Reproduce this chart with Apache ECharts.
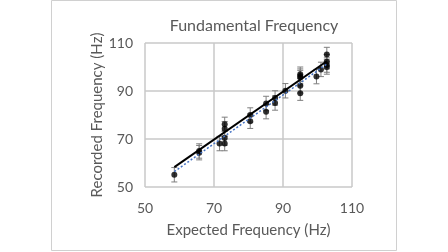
<!DOCTYPE html>
<html>
<head>
<meta charset="utf-8">
<script src="https://cdn.jsdelivr.net/npm/echarts@6/dist/echarts.min.js"></script>
<style>
  html, body { margin: 0; padding: 0; background: #fff; }
  #main { width: 448px; height: 252px; }
</style>
</head>
<body>
<div id="main"></div>
<script>
// measured points (expected Hz, recorded Hz) and error bar half-widths
var expected = [58.5, 65.7, 65.7, 71.6, 73.1, 73.1, 73.1, 73.1, 80.5, 80.5, 85.1, 85.1, 87.7, 87.7, 90.7, 95.0, 95.0, 95.0, 95.0, 95.0, 99.7, 101.0, 102.7, 102.7, 102.7, 102.7];
var recorded = [55.1, 65.0, 64.3, 68.1, 68.1, 70.4, 74.3, 76.1, 80.0, 77.4, 84.8, 81.4, 87.1, 85.0, 90.1, 97.0, 95.6, 96.2, 92.2, 89.1, 96.0, 99.0, 105.2, 102.2, 100.8, 100.0];
var errors = [3, 3, 3, 3, 3, 3, 3, 3, 3, 3, 3, 3, 3, 3, 3, 3, 3, 3, 3, 3, 3, 3, 3, 3, 3, 3];

// trend lines
var fitX = [58.5, 102.7];
var fitY = [58.3, 102.4];
var dotY = [56.4, 101.2];

var xTicks = [50, 70, 90, 110];
var yTicks = [50, 70, 90, 110];

var txt = '#595959';
var font = 'Lato';

var pts = expected.map(function (x, i) { return [x, recorded[i]]; });
var bars = expected.map(function (x, i) { return [x, recorded[i] - errors[i], recorded[i] + errors[i]]; });

var myChart = echarts.init(document.getElementById('main'));
var option = {
    backgroundColor: '#fff',
    animation: false,
    title: {
        text: 'Fundamental Frequency',
        left: 249,
        textAlign: 'center',
        top: 13,
        textStyle: { color: txt, fontFamily: font, fontSize: 16, fontWeight: 'normal' }
    },
    graphic: [{
        type: 'rect',
        shape: { x: 51.5, y: 0.5, width: 345, height: 250 },
        style: { fill: 'none', stroke: '#d0d0d0', lineWidth: 1 },
        silent: true
    }],
    grid: { left: 145, right: 96, top: 43, bottom: 65 },
    xAxis: {
        type: 'value',
        min: xTicks[0], max: xTicks[xTicks.length - 1], interval: 20,
        name: 'Expected Frequency (Hz)',
        nameLocation: 'middle',
        nameGap: 36,
        nameTextStyle: { color: txt, fontFamily: font, fontSize: 15 },
        axisLine: { show: false },
        axisTick: { show: false },
        axisLabel: { color: txt, fontFamily: font, fontSize: 14, margin: 14 },
        splitLine: { show: true, lineStyle: { color: '#c8c8c8', width: 1.5 } }
    },
    yAxis: {
        type: 'value',
        min: yTicks[0], max: yTicks[yTicks.length - 1], interval: 20,
        name: 'Recorded Frequency (Hz)',
        nameLocation: 'middle',
        nameGap: 40,
        nameTextStyle: { color: txt, fontFamily: font, fontSize: 15 },
        axisLine: { show: false },
        axisTick: { show: false },
        axisLabel: { color: txt, fontFamily: font, fontSize: 14, margin: 12 },
        splitLine: { show: true, lineStyle: { color: '#c8c8c8', width: 1.5 } }
    },
    series: [
        {
            type: 'custom',
            data: bars,
            z: 2,
            renderItem: function (params, api) {
                var lo = api.coord([api.value(0), api.value(1)]);
                var hi = api.coord([api.value(0), api.value(2)]);
                var w = 3;
                var st = { stroke: '#7f7f7f', lineWidth: 1 };
                return {
                    type: 'group',
                    children: [
                        { type: 'line', shape: { x1: lo[0], y1: lo[1], x2: hi[0], y2: hi[1] }, style: st },
                        { type: 'line', shape: { x1: lo[0] - w, y1: lo[1], x2: lo[0] + w, y2: lo[1] }, style: st },
                        { type: 'line', shape: { x1: hi[0] - w, y1: hi[1], x2: hi[0] + w, y2: hi[1] }, style: st }
                    ]
                };
            }
        },
        {
            type: 'scatter',
            data: pts,
            symbolSize: 6,
            z: 3,
            itemStyle: { color: '#000' }
        },
        {
            type: 'line',
            data: fitX.map(function (x, i) { return [x, fitY[i]]; }),
            symbol: 'none',
            z: 4,
            lineStyle: { color: '#000', width: 2 }
        },
        {
            type: 'line',
            data: fitX.map(function (x, i) { return [x, dotY[i]]; }),
            symbol: 'none',
            z: 4,
            lineStyle: { color: '#4472c4', width: 1.5, type: [2, 2] }
        }
    ]
};
myChart.setOption(option);
</script>
</body>
</html>
